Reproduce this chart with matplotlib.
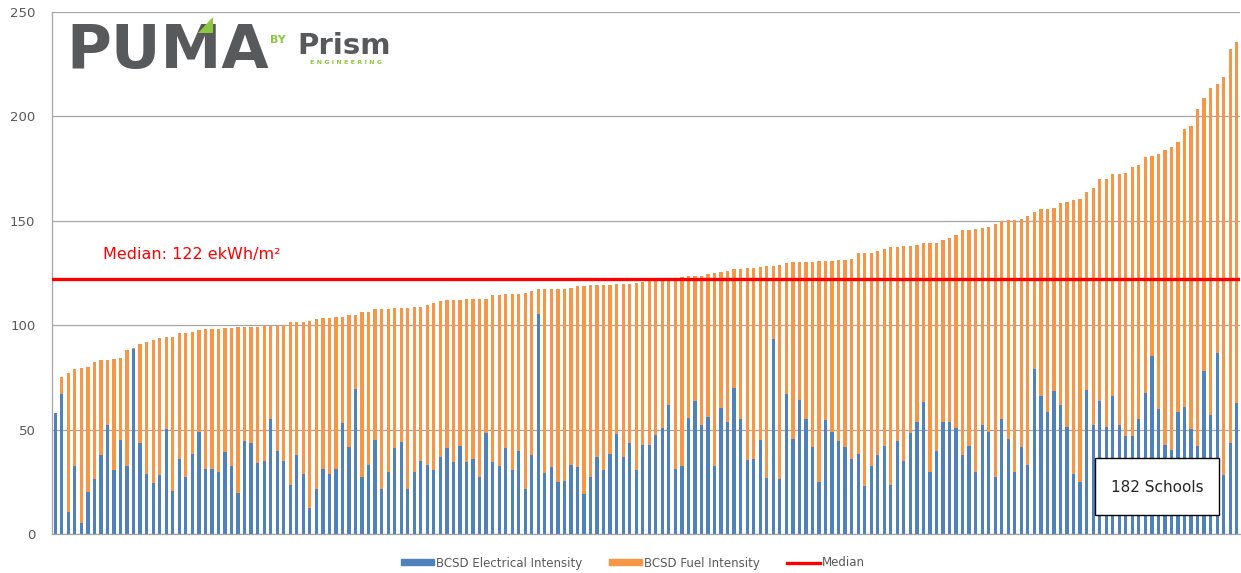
import matplotlib
matplotlib.use('Agg')
import matplotlib.pyplot as plt
import matplotlib.patches as mpatches
import matplotlib.lines as mlines
import numpy as np

# one bar per school, sorted by total intensity (ekWh/m2)
electrical = [
    58.1, 67.0, 10.7, 32.6, 5.1, 20.3, 26.3, 37.8, 52.2, 30.5,
    45.0, 32.6, 88.6, 43.4, 28.7, 24.3, 28.3, 50.1, 20.7, 35.9,
    27.1, 38.3, 49.0, 31.0, 31.0, 29.8, 39.4, 32.6, 19.8, 44.5,
    43.4, 33.8, 35.0, 55.1, 39.9, 35.0, 23.5, 37.8, 28.7, 12.3,
    21.6, 31.0, 28.7, 31.0, 53.0, 41.7, 69.3, 27.5, 33.0, 45.0,
    21.4, 29.8, 41.0, 44.1, 21.4, 29.8, 35.0, 33.0, 30.5, 37.0,
    41.0, 34.3, 42.1, 34.3, 35.9, 27.1, 48.5, 34.3, 32.7, 41.2,
    30.5, 39.9, 21.4, 37.8, 105.4, 29.4, 32.2, 24.9, 25.4, 33.0,
    32.2, 19.2, 27.1, 36.7, 30.5, 38.3, 48.0, 36.7, 43.4, 30.5,
    42.6, 42.6, 47.3, 50.6, 61.8, 31.0, 32.7, 55.7, 63.7, 52.2,
    56.2, 32.7, 60.3, 53.5, 69.8, 55.1, 35.4, 36.1, 45.0, 27.0,
    93.4, 26.3, 67.0, 45.5, 64.2, 55.1, 41.7, 24.9, 54.6, 49.0,
    44.5, 41.8, 35.9, 38.3, 23.1, 32.7, 37.8, 42.3, 23.6, 44.5,
    35.0, 48.2, 53.5, 63.1, 29.8, 39.9, 53.5, 53.5, 50.9, 37.8,
    42.3, 29.8, 52.4, 49.0, 27.1, 55.2, 45.7, 29.8, 41.8, 33.0,
    79.0, 66.2, 58.6, 68.5, 61.8, 51.4, 28.6, 25.0, 69.0, 52.2,
    63.9, 51.4, 66.2, 52.2, 46.9, 46.9, 55.1, 67.4, 85.2, 59.7,
    42.6, 40.2, 58.3, 60.7, 50.1, 42.3, 78.1, 57.0, 86.8, 28.3,
    43.4, 62.9,
]
fuel = [
    0.0, 8.0, 66.3, 46.3, 74.4, 59.5, 56.2, 45.5, 31.1, 53.3,
    39.5, 55.4, 0.4, 47.6, 63.1, 68.6, 65.7, 44.4, 73.8, 60.2,
    69.0, 58.6, 48.7, 67.0, 67.0, 68.2, 59.1, 65.9, 79.2, 54.5,
    55.6, 65.2, 64.6, 44.5, 59.7, 64.9, 77.9, 63.6, 72.8, 89.7,
    81.4, 72.6, 74.9, 73.1, 51.1, 63.0, 35.4, 79.0, 73.5, 62.6,
    86.2, 77.8, 67.2, 64.1, 86.8, 78.9, 73.7, 76.7, 80.0, 74.4,
    71.1, 77.8, 70.0, 78.2, 76.6, 85.4, 64.0, 80.0, 81.6, 73.6,
    84.3, 74.9, 93.9, 78.7, 11.8, 87.8, 85.0, 92.3, 91.8, 84.7,
    86.6, 99.6, 92.2, 82.6, 88.8, 81.0, 71.7, 83.1, 76.4, 89.9,
    78.2, 78.4, 74.0, 71.0, 60.2, 91.8, 90.5, 68.0, 60.0, 71.5,
    68.2, 92.3, 65.3, 72.6, 57.0, 71.7, 91.8, 91.1, 82.9, 101.4,
    35.0, 102.7, 62.6, 84.6, 65.9, 75.0, 88.4, 105.7, 76.0, 81.7,
    86.7, 89.4, 95.8, 96.3, 111.5, 101.9, 97.9, 94.0, 113.9, 93.0,
    102.9, 89.7, 85.1, 76.1, 109.4, 99.3, 87.3, 88.4, 92.2, 107.6,
    103.1, 116.1, 94.0, 97.9, 121.5, 94.9, 104.7, 120.6, 109.1, 119.5,
    75.1, 89.3, 96.9, 87.6, 96.6, 107.5, 131.4, 135.6, 94.9, 113.3,
    106.0, 118.5, 106.1, 120.1, 125.9, 128.7, 121.6, 113.2, 96.0, 122.1,
    141.3, 145.3, 129.4, 133.3, 145.5, 161.4, 130.9, 156.8, 128.7, 190.6,
    188.7, 172.6,
]
median_value = 122
y_ticks = [0, 50, 100, 150, 200, 250]

plt.rcParams['font.family'] = ['DejaVu Sans']

W, H = 1241, 573
fig = plt.figure(figsize=(W / 100, H / 100), dpi=100)
ax = fig.add_axes([52 / W, 39 / H, 1188 / W, 522 / H])

blue, orange, red = '#4f81bd', '#f79646', '#ff0000'
green = '#8dc63f'
grid_col = '#a6a6a6'
txt_col = '#595959'

x = np.arange(len(electrical))
ax.bar(x, electrical, width=0.5, color=blue, zorder=2)
ax.bar(x, fuel, bottom=electrical, width=0.5, color=orange, zorder=2)
ax.axhline(median_value, color=red, lw=2.4, zorder=3)

ax.set_xlim(-0.5, len(x) - 0.5)
ax.set_ylim(0, 250)
ax.set_yticks(y_ticks)
ax.set_xticks([])
ax.tick_params(axis='y', length=0, pad=12, labelsize=9.5, labelcolor=txt_col)
ax.yaxis.grid(True, color=grid_col, lw=0.9)
ax.set_axisbelow(True)
for s in ['top', 'right']:
    ax.spines[s].set_visible(False)
for s in ['left', 'bottom']:
    ax.spines[s].set_color(grid_col)
    ax.spines[s].set_linewidth(0.9)

fig.text(103 / W, 1 - 255 / H, f"Median: {median_value} ekWh/m\u00b2",
         color=red, fontsize=11.5, va='center', ha='left')

# logo
fig.text(66 / W, 1 - 68 / H, "PUMA", fontsize=44, fontweight='bold',
         color='#58595b', va='baseline', ha='left')
tri = mpatches.Polygon([(198 / W, 1 - 33 / H), (213 / W, 1 - 33 / H),
                        (213 / W, 1 - 17 / H)], closed=True,
                       transform=fig.transFigure, facecolor=green,
                       edgecolor='none', zorder=4)
fig.add_artist(tri)
fig.text(270 / W, 1 - 40 / H, "BY", fontsize=8, fontweight='bold',
         color=green, va='center', ha='left')
fig.text(297 / W, 1 - 54 / H, "Prism", fontsize=21, fontweight='bold',
         color='#58595b', va='baseline', ha='left')
fig.text(346 / W, 1 - 62 / H, "E N G I N E E R I N G", fontsize=4.6,
         fontweight='bold', color=green, va='center', ha='center')

# count box
box = mpatches.Rectangle((1095 / W, 1 - 515 / H), 124 / W, 57 / H,
                         transform=fig.transFigure, facecolor='white',
                         edgecolor='black', lw=1, zorder=5)
fig.add_artist(box)
fig.text(1157 / W, 1 - 487 / H, f"{len(x)} Schools", fontsize=11,
         color='#262626', ha='center', va='center', zorder=6)

handles = [mpatches.Patch(color=blue), mpatches.Patch(color=orange),
           mlines.Line2D([], [], color=red, lw=2.4)]
labels = ["BCSD Electrical Intensity", "BCSD Fuel Intensity", "Median"]
leg = fig.legend(handles, labels, loc='center', bbox_to_anchor=(0.51, 1 - 563 / H),
                 ncol=3, frameon=False, fontsize=8.5, handlelength=2.8,
                 handleheight=0.45, handletextpad=0.15, columnspacing=2.3)
for t in leg.get_texts():
    t.set_color(txt_col)

fig.savefig("out.png", dpi=100)
